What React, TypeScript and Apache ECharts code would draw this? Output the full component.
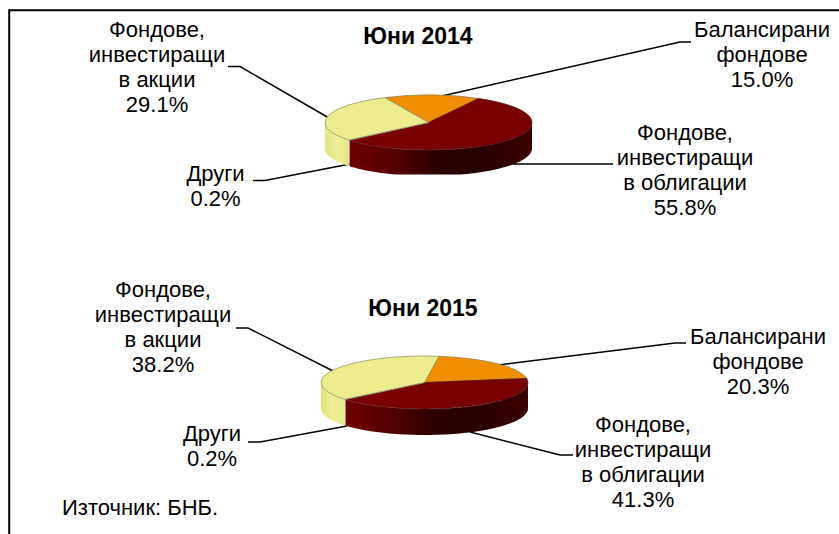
import React, { useEffect, useRef } from "react";
import * as echarts from "echarts";

const categoryLabels = ["Балансирани\nфондове", "Фондове,\nинвестиращи\nв облигации", "Други", "Фондове,\nинвестиращи\nв акции"];
const values2014 = [15.0, 55.8, 0.2, 29.1];
const values2015 = [20.3, 41.3, 0.2, 38.2];
const titles = ["Юни 2014", "Юни 2015"];
const sourceNote = "Източник: БНБ.";

const topColors = ["#ee8e00", "#780000", "#c9c9b0", "#ecec8c"];
const wallColors: any[] = [
  ["#ee8e00", "#b06800"],
  ["#700000", "#520000", "#2c0000", "#2a0000", "#3c0000"],
  ["#999988", "#999988"],
  ["#e2e282", "#eeee92", "#e6e68a"],
];
const edgeColors = ["#8a7a50", "#5a1010", "#777", "#8a8a60"];

const FONT = '"Liberation Sans", Arial, sans-serif';
const RAD = Math.PI / 180;

type PieGeom = { cx: number; cy: number; rx: number; ry: number; depth: number; start: number; clipY: number };
const pie2014: PieGeom = { cx: 428.5, cy: 122.5, rx: 103.5, ry: 27.5, depth: 26, start: -25, clipY: 174.5 };
const pie2015: PieGeom = { cx: 424.5, cy: 382.5, rx: 103.5, ry: 26.5, depth: 26, start: 8, clipY: 436 };

function pt(g: PieGeom, deg: number, dy = 0): string {
  const x = g.cx + g.rx * Math.sin(deg * RAD);
  const y = Math.min(g.cy - g.ry * Math.cos(deg * RAD) + dy, g.clipY);
  return `${x.toFixed(2)} ${y.toFixed(2)}`;
}

function slicePath(g: PieGeom, a: number, b: number): string {
  const large = b - a > 180 ? 1 : 0;
  return `M${g.cx} ${g.cy}L${pt(g, a)}A${g.rx} ${g.ry} 0 ${large} 1 ${pt(g, b)}Z`;
}

function wallPath(g: PieGeom, a: number, b: number): string | null {
  const lo = Math.max(a, 90);
  const hi = Math.min(b, 270);
  if (hi <= lo) return null;
  const upper: string[] = [];
  const lower: string[] = [];
  for (let d = lo; d <= hi + 1e-6; d += 2) {
    upper.push(pt(g, d));
    lower.unshift(pt(g, d, g.depth));
  }
  upper.push(pt(g, hi));
  lower.unshift(pt(g, hi, g.depth));
  return `M${upper.join("L")}L${lower.join("L")}Z`;
}

function gradient(stops: string[]) {
  return new echarts.graphic.LinearGradient(
    0, 0, 1, 0,
    stops.map((color, i) => ({ offset: stops.length > 1 ? i / (stops.length - 1) : 0, color }))
  );
}

function pieSeries(values: number[], g: PieGeom) {
  const total = values.reduce((s, v) => s + v, 0);
  const starts: number[] = [];
  let acc = g.start;
  values.forEach((v) => {
    starts.push(acc);
    acc += (v / total) * 360;
  });
  return {
    type: "custom",
    coordinateSystem: "none",
    silent: true,
    clip: false,
    data: values.map((v) => [v]),
    renderItem: (params: any, api: any) => {
      const i = params.dataIndex;
      const a = starts[i];
      const b = a + (api.value(0) / total) * 360;
      const children: any[] = [];
      const wall = wallPath(g, a, b);
      if (wall) {
        children.push({
          type: "path",
          shape: { pathData: wall },
          style: { fill: gradient(wallColors[i]), stroke: null },
        });
      }
      children.push({
        type: "path",
        shape: { pathData: slicePath(g, a, b) },
        style: { fill: topColors[i], stroke: edgeColors[i], lineWidth: 0.7 },
      });
      return { type: "group", children };
    },
  };
}

function labelText(i: number, values: number[]) {
  return `${categoryLabels[i]}\n${values[i].toFixed(1)}%`;
}

const labelPos2014 = [
  { x: 762, y: 29 },
  { x: 685, y: 132 },
  { x: 215.5, y: 173 },
  { x: 157, y: 29 },
];
const labelPos2015 = [
  { x: 758, y: 336 },
  { x: 643, y: 424 },
  { x: 212, y: 433 },
  { x: 163, y: 289 },
];

const leaders: number[][][] = [
  [[228, 66.5], [240, 66.5], [329, 118]],
  [[253, 180.5], [265, 180.5], [350, 164]],
  [[433, 98], [680, 42], [691, 42]],
  [[513, 164], [613, 164]],
  [[236, 328], [248, 328], [335, 372]],
  [[248, 442], [260, 442], [347, 426]],
  [[498, 365], [675, 343], [686, 343]],
  [[470, 432], [560, 455], [573, 455]],
];

const LABEL_SIZE = 22;
const TITLE_SIZE = 23;

function makeLabel(text: string, x: number, y: number) {
  return {
    type: "text",
    x,
    y: y - 12.5,
    silent: true,
    style: { text, fill: "#000", font: `${LABEL_SIZE}px ${FONT}`, lineHeight: 25, align: "center", verticalAlign: "top" },
  };
}

export default function App() {
  const ref = useRef<HTMLDivElement>(null);
  useEffect(() => {
    if (!ref.current) return;
    const chart = echarts.init(ref.current, undefined, { renderer: "svg" });
    const labels = [
      ...labelPos2014.map((p, i) => makeLabel(labelText(i, values2014), p.x, p.y)),
      ...labelPos2015.map((p, i) => makeLabel(labelText(i, values2015), p.x, p.y)),
    ];
    const lines = leaders.map((points) => ({
      type: "polyline",
      silent: true,
      shape: { points },
      style: { stroke: "#000", lineWidth: 1.5, fill: null },
    }));
    chart.setOption({
      animation: false,
      backgroundColor: "#fff",
      title: [
        { text: titles[0], left: 413, top: 19, textAlign: "center", textStyle: { fontFamily: FONT, fontSize: TITLE_SIZE, fontWeight: "bold", color: "#000" } },
        { text: titles[1], left: 418, top: 291, textAlign: "center", textStyle: { fontFamily: FONT, fontSize: TITLE_SIZE, fontWeight: "bold", color: "#000" } },
      ],
      series: [pieSeries(values2014, pie2014), pieSeries(values2015, pie2015)],
      graphic: [
        { type: "line", silent: true, shape: { x1: 9.2, y1: 10.2, x2: 839, y2: 10.2 }, style: { stroke: "#000", lineWidth: 2 } },
        { type: "line", silent: true, shape: { x1: 9.2, y1: 9.2, x2: 9.2, y2: 534 }, style: { stroke: "#000", lineWidth: 2 } },
        ...lines,
        ...labels,
        {
          type: "text",
          x: 62,
          y: 496,
          silent: true,
          style: { text: sourceNote, fill: "#000", font: `${LABEL_SIZE}px ${FONT}`, verticalAlign: "top" },
        },
      ],
    });
    return () => chart.dispose();
  }, []);
  return <div ref={ref} style={{ position: "fixed", left: 0, top: 0, width: 839, height: 534 }} />;
}
